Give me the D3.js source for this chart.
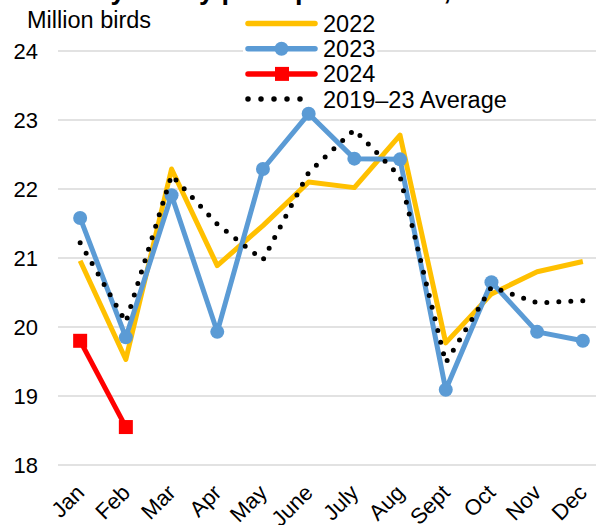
<!DOCTYPE html>
<html>
<head>
<meta charset="utf-8">
<script src="https://cdn.jsdelivr.net/npm/d3@7"></script>
<style>
  html, body { margin: 0; padding: 0; background: #fff; }
  svg { display: block; font-family: "Liberation Sans", Arial, sans-serif; }
</style>
</head>
<body>
<svg id="chart" width="596" height="525"></svg>
<script>
// Monthly turkey poult placements, million birds
const months = ["Jan", "Feb", "Mar", "Apr", "May", "June", "July", "Aug", "Sept", "Oct", "Nov", "Dec"];
const yTicks = [18, 19, 20, 21, 22, 23, 24];
const values2022 = [20.96, 19.53, 22.29, 20.89, 21.47, 22.10, 22.02, 22.78, 19.77, 20.48, 20.80, 20.95];
const values2023 = [21.58, 19.85, 21.91, 19.93, 22.29, 23.09, 22.44, 22.43, 19.09, 20.65, 19.93, 19.80];
const values2024 = [19.80, 18.55];
const valuesAvg = [21.22, 20.07, 22.20, 21.49, 20.97, 22.24, 22.86, 22.18, 19.48, 20.58, 20.35, 20.38];

const svg = d3.select("#chart");

const x = d3.scalePoint().domain(months).range([57.3, 605.7]).padding(0.5);
const y = d3.scaleLinear().domain([18, 24]).range([465, 51]);

// Title (sits mostly above the visible area)
svg.append("text")
  .attr("x", 22).attr("y", -1)
  .attr("font-size", 27).attr("font-weight", "bold").attr("fill", "#000")
  .text("Monthly turkey poult placements, 2022\u201324");

// Units label
svg.append("text")
  .attr("x", 27).attr("y", 28)
  .attr("font-size", 23.5).attr("fill", "#000")
  .text("Million birds");

// Horizontal gridlines
svg.append("g").selectAll("line").data(yTicks).join("line")
  .attr("x1", 58).attr("x2", 610)
  .attr("y1", d => y(d)).attr("y2", d => y(d))
  .attr("stroke", "#d9d9d9").attr("stroke-width", 1.5);

// Y axis labels
const yAxis = svg.append("g").attr("transform", "translate(38,0)")
  .call(d3.axisLeft(y).tickValues(yTicks).tickSize(0).tickPadding(0).tickFormat(d3.format("d")));
yAxis.select(".domain").remove();
yAxis.selectAll("text").attr("font-size", 22).attr("fill", "#000")
  .attr("font-family", "'Liberation Sans', Arial, sans-serif");

// X axis labels, rotated
const xAxis = svg.append("g").attr("transform", "translate(0,494)")
  .call(d3.axisBottom(x).tickSize(0).tickPadding(0));
xAxis.select(".domain").remove();
xAxis.selectAll("text")
  .attr("font-size", 22).attr("fill", "#000")
  .attr("font-family", "'Liberation Sans', Arial, sans-serif")
  .attr("text-anchor", "end").attr("dy", 0).attr("y", 0).attr("x", 0)
  .attr("transform", "translate(5,0) rotate(-45)");

// Legend
const legendItems = [
  { label: "2022", color: "#FFC000", type: "line" },
  { label: "2023", color: "#5B9BD5", type: "circle" },
  { label: "2024", color: "#FF0000", type: "square" },
  { label: "2019\u201323 Average", color: "#000", type: "dots" }
];
const legend = svg.append("g");
legendItems.forEach((item, i) => {
  const cy = 23.5 + i * 25.2;
  const g = legend.append("g");
  const bg = g.append("rect").attr("fill", "#fff");
  if (item.type === "dots") {
    g.append("line").attr("x1", 248).attr("x2", 313).attr("y1", cy).attr("y2", cy)
      .attr("stroke", "#000").attr("stroke-width", 5.5)
      .attr("stroke-linecap", "round").attr("stroke-dasharray", "0 13");
  } else {
    g.append("line").attr("x1", 248).attr("x2", 315).attr("y1", cy).attr("y2", cy)
      .attr("stroke", item.color).attr("stroke-width", 5.5).attr("stroke-linecap", "round");
  }
  if (item.type === "circle") {
    g.append("circle").attr("cx", 281.5).attr("cy", cy).attr("r", 7).attr("fill", item.color);
  }
  if (item.type === "square") {
    g.append("rect").attr("x", 275).attr("y", cy - 7).attr("width", 14).attr("height", 14).attr("fill", item.color);
  }
  const t = g.append("text").attr("x", 323).attr("y", cy).attr("dy", "0.36em")
    .attr("font-size", 23.5).attr("fill", "#000").text(item.label);
  const w = t.node().getComputedTextLength();
  bg.attr("x", 243).attr("y", cy - 11).attr("width", 323 + w + 2 - 243).attr("height", 22);
});

// Series lines
const line = d3.line().x((d, i) => x(months[i])).y(d => y(d));

svg.append("path").datum(values2022)
  .attr("d", line).attr("fill", "none")
  .attr("stroke", "#FFC000").attr("stroke-width", 5).attr("stroke-linejoin", "round");

svg.append("path").datum(values2023)
  .attr("d", line).attr("fill", "none")
  .attr("stroke", "#5B9BD5").attr("stroke-width", 5).attr("stroke-linejoin", "round");
svg.append("g").selectAll("circle").data(values2023).join("circle")
  .attr("cx", (d, i) => x(months[i])).attr("cy", d => y(d)).attr("r", 7)
  .attr("fill", "#5B9BD5");

svg.append("path").datum(values2024)
  .attr("d", line).attr("fill", "none")
  .attr("stroke", "#FF0000").attr("stroke-width", 5).attr("stroke-linejoin", "round");
svg.append("g").selectAll("rect").data(values2024).join("rect")
  .attr("x", (d, i) => x(months[i]) - 7).attr("y", d => y(d) - 7)
  .attr("width", 14).attr("height", 14).attr("fill", "#FF0000");

svg.append("path").datum(valuesAvg)
  .attr("d", line).attr("fill", "none")
  .attr("stroke", "#000").attr("stroke-width", 5)
  .attr("stroke-linecap", "round").attr("stroke-linejoin", "round")
  .attr("stroke-dasharray", "0 12");
</script>
</body>
</html>
